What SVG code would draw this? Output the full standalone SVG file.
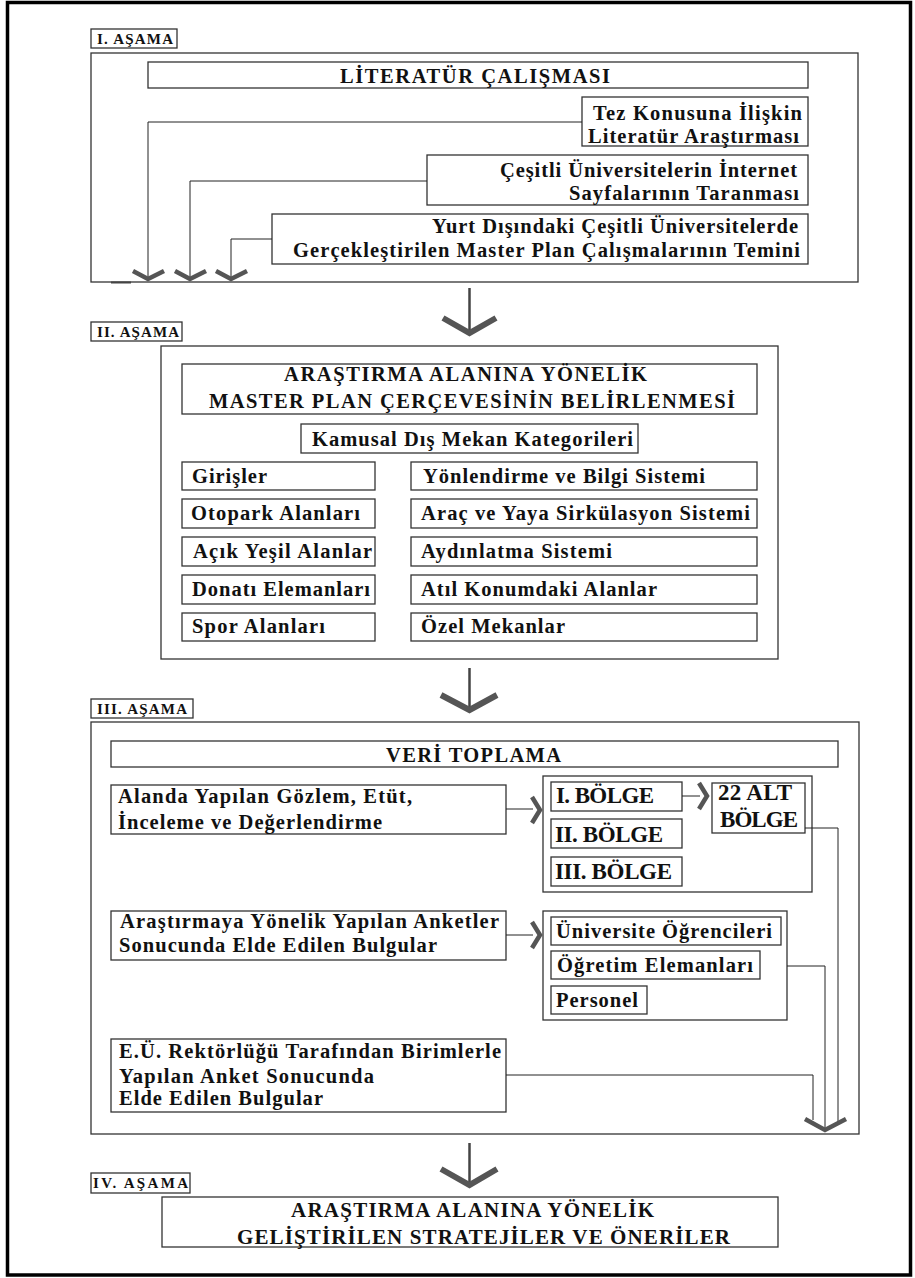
<svg xmlns="http://www.w3.org/2000/svg" width="915" height="1278" viewBox="0 0 915 1278">
<style>
.box{fill:#fff;stroke:#333;stroke-width:1.3}
.frame{fill:none;stroke:#333;stroke-width:1.3}
.t{font-family:"Liberation Serif","Times New Roman",serif;font-weight:bold;fill:#111;font-size:20.5px}
.lbl{font-size:15px}
.big{font-size:23px}
.fin{font-size:21px}
.conn{fill:none;stroke:#222;stroke-width:1}
.chev{fill:none;stroke:#555;stroke-width:6;stroke-linejoin:miter;stroke-miterlimit:10}
.chevs{fill:none;stroke:#555;stroke-width:4.5;stroke-linejoin:miter;stroke-miterlimit:10}
.shaft{stroke:#444;stroke-width:2.5}
</style>
<rect x="0" y="0" width="915" height="1278" fill="#fff"/>
<rect x="7.5" y="2.5" width="903" height="1272.5" fill="none" stroke="#000" stroke-width="3.5"/>

<!-- Phase I -->
<g id="phase1">
  <rect class="box" x="91" y="29" width="86" height="19"/>
  <text class="t lbl" x="97" y="44" textLength="76" lengthAdjust="spacing">I. AŞAMA</text>
  <rect class="frame" x="91" y="53" width="767" height="229"/>
</g>
<g id="literatur">
  <rect class="box" x="148" y="62" width="660" height="26"/>
  <text class="t" x="340" y="83" textLength="270" lengthAdjust="spacing">LİTERATÜR ÇALIŞMASI</text>
</g>
<g id="tez">
  <rect class="box" x="582" y="97" width="226" height="49"/>
  <text class="t" x="593" y="120" textLength="209" lengthAdjust="spacing">Tez Konusuna İlişkin</text>
  <text class="t" x="588" y="143" textLength="211" lengthAdjust="spacing">Literatür Araştırması</text>
</g>
<g id="cesitli">
  <rect class="box" x="427" y="155" width="381" height="50"/>
  <text class="t" x="500" y="177" textLength="297" lengthAdjust="spacing">Çeşitli Üniversitelerin İnternet</text>
  <text class="t" x="569" y="200" textLength="230" lengthAdjust="spacing">Sayfalarının Taranması</text>
</g>
<g id="yurt">
  <rect class="box" x="272" y="214" width="536" height="50"/>
  <text class="t" x="432" y="233" textLength="366" lengthAdjust="spacing">Yurt Dışındaki Çeşitli Üniversitelerde</text>
  <text class="t" x="293" y="257" textLength="507" lengthAdjust="spacing">Gerçekleştirilen Master Plan Çalışmalarının Temini</text>
</g>

<!-- Phase II -->
<g id="phase2">
  <rect class="box" x="91" y="322" width="91" height="19"/>
  <text class="t lbl" x="97" y="337" textLength="82" lengthAdjust="spacing">II. AŞAMA</text>
  <rect class="frame" x="161" y="346" width="617" height="313"/>
</g>
<g id="masterplan">
  <rect class="box" x="182" y="364" width="575" height="50"/>
  <text class="t" x="284" y="381" textLength="363" lengthAdjust="spacing">ARAŞTIRMA ALANINA YÖNELİK</text>
  <text class="t" x="209" y="408" textLength="526" lengthAdjust="spacing">MASTER PLAN ÇERÇEVESİNİN BELİRLENMESİ</text>
</g>
<g id="kamusal">
  <rect class="box" x="301" y="424" width="337" height="29"/>
  <text class="t" x="312" y="446" textLength="321" lengthAdjust="spacing">Kamusal Dış Mekan Kategorileri</text>
</g>
<g id="girisler"><rect class="box" x="182" y="462" width="193" height="28"/><text class="t" x="192" y="483" textLength="75" lengthAdjust="spacing">Girişler</text></g>
<g id="otopark"><rect class="box" x="182" y="499" width="193" height="29"/><text class="t" x="191" y="520" textLength="169" lengthAdjust="spacing">Otopark Alanları</text></g>
<g id="acik"><rect class="box" x="182" y="537" width="193" height="29"/><text class="t" x="193" y="558" textLength="179" lengthAdjust="spacing">Açık Yeşil Alanlar</text></g>
<g id="donati"><rect class="box" x="182" y="575" width="193" height="29"/><text class="t" x="192" y="596" textLength="178" lengthAdjust="spacing">Donatı Elemanları</text></g>
<g id="spor"><rect class="box" x="182" y="613" width="193" height="28"/><text class="t" x="192" y="633" textLength="133" lengthAdjust="spacing">Spor Alanları</text></g>
<g id="yonlendirme"><rect class="box" x="411" y="462" width="346" height="28"/><text class="t" x="423" y="483" textLength="282" lengthAdjust="spacing">Yönlendirme ve Bilgi Sistemi</text></g>
<g id="arac"><rect class="box" x="411" y="499" width="346" height="29"/><text class="t" x="421" y="520" textLength="329" lengthAdjust="spacing">Araç ve Yaya Sirkülasyon Sistemi</text></g>
<g id="aydinlatma"><rect class="box" x="411" y="537" width="346" height="29"/><text class="t" x="421" y="558" textLength="191" lengthAdjust="spacing">Aydınlatma Sistemi</text></g>
<g id="atil"><rect class="box" x="411" y="575" width="346" height="29"/><text class="t" x="421" y="596" textLength="236" lengthAdjust="spacing">Atıl Konumdaki Alanlar</text></g>
<g id="ozel"><rect class="box" x="411" y="613" width="346" height="28"/><text class="t" x="421" y="633" textLength="144" lengthAdjust="spacing">Özel Mekanlar</text></g>

<!-- Phase III -->
<g id="phase3">
  <rect class="box" x="91" y="699" width="102" height="19"/>
  <text class="t lbl" x="97" y="714" textLength="90" lengthAdjust="spacing">III. AŞAMA</text>
  <rect class="frame" x="91" y="722" width="768" height="412"/>
</g>
<g id="veri">
  <rect class="box" x="111" y="741" width="727" height="26"/>
  <text class="t" x="386" y="762" textLength="175" lengthAdjust="spacing">VERİ TOPLAMA</text>
</g>
<g id="alanda">
  <rect class="box" x="111" y="785" width="395" height="49"/>
  <text class="t" x="118" y="803" textLength="294" lengthAdjust="spacing">Alanda Yapılan Gözlem, Etüt,</text>
  <text class="t" x="118" y="829" textLength="264" lengthAdjust="spacing">İnceleme ve Değerlendirme</text>
</g>
<g id="bolgeler">
  <rect class="frame" x="543" y="776" width="269" height="116"/>
</g>
<g id="bolge1"><rect class="box" x="551" y="782" width="131" height="29"/><text class="t big" x="556" y="803" textLength="98" lengthAdjust="spacing">I. BÖLGE</text></g>
<g id="bolge2"><rect class="box" x="551" y="819" width="131" height="29"/><text class="t big" x="555" y="842" textLength="108" lengthAdjust="spacing">II. BÖLGE</text></g>
<g id="bolge3"><rect class="box" x="551" y="857" width="131" height="29"/><text class="t big" x="555" y="879" textLength="117" lengthAdjust="spacing">III. BÖLGE</text></g>
<g id="altbolge">
  <rect class="box" x="712" y="783" width="93" height="50"/>
  <text class="t big" x="718" y="800" textLength="74" lengthAdjust="spacing">22 ALT</text>
  <text class="t big" x="720" y="827" textLength="78" lengthAdjust="spacing">BÖLGE</text>
</g>
<g id="anketler">
  <rect class="box" x="111" y="911" width="395" height="49"/>
  <text class="t" x="120" y="928" textLength="379" lengthAdjust="spacing">Araştırmaya Yönelik Yapılan Anketler</text>
  <text class="t" x="119" y="952" textLength="318" lengthAdjust="spacing">Sonucunda Elde Edilen Bulgular</text>
</g>
<g id="katilimcilar">
  <rect class="frame" x="543" y="911" width="244" height="109"/>
</g>
<g id="ogrenciler"><rect class="box" x="551" y="917" width="230" height="28"/><text class="t" x="556" y="938" textLength="216" lengthAdjust="spacing">Üniversite Öğrencileri</text></g>
<g id="ogretim"><rect class="box" x="551" y="951" width="209" height="28"/><text class="t" x="557" y="972" textLength="196" lengthAdjust="spacing">Öğretim Elemanları</text></g>
<g id="personel"><rect class="box" x="551" y="986" width="96" height="28"/><text class="t" x="556" y="1007" textLength="82" lengthAdjust="spacing">Personel</text></g>
<g id="rektorluk">
  <rect class="box" x="111" y="1039" width="395" height="73"/>
  <text class="t" x="119" y="1058" textLength="382" lengthAdjust="spacing">E.Ü. Rektörlüğü Tarafından Birimlerle</text>
  <text class="t" x="119" y="1083" textLength="255" lengthAdjust="spacing">Yapılan Anket Sonucunda</text>
  <text class="t" x="119" y="1105" textLength="204" lengthAdjust="spacing">Elde Edilen Bulgular</text>
</g>

<!-- Phase IV -->
<g id="phase4">
  <rect class="box" x="91" y="1173" width="99" height="20"/>
  <text class="t lbl" x="93" y="1188" textLength="95" lengthAdjust="spacing">IV. AŞAMA</text>
</g>
<g id="stratejiler">
  <rect class="box" x="162" y="1197" width="616" height="50"/>
  <text class="t fin" x="291" y="1217" textLength="363" lengthAdjust="spacing">ARAŞTIRMA ALANINA YÖNELİK</text>
  <text class="t fin" x="237" y="1244" textLength="493" lengthAdjust="spacing">GELİŞTİRİLEN STRATEJİLER VE ÖNERİLER</text>
</g>

<!-- Connectors -->
<g id="connectors">
  <polyline class="conn" points="582,122 148,122 148,277"/>
  <polyline class="conn" points="427,181 190,181 190,277"/>
  <polyline class="conn" points="272,239 231,239 231,277"/>
  <line x1="111" y1="282.5" x2="131" y2="282.5" stroke="#444" stroke-width="2"/>
  <polyline class="chevs" points="133,271 148,279 164,271"/>
  <polyline class="chevs" points="175,271 190,279 206,271"/>
  <polyline class="chevs" points="216,271 231,279 247,271"/>

  <line class="shaft" x1="469.5" y1="288" x2="469.5" y2="330"/>
  <polyline class="chev" points="443,318 469.5,333 496,318"/>
  <line class="shaft" x1="469.5" y1="668" x2="469.5" y2="708"/>
  <polyline class="chev" points="441,695 469.5,710 497,695"/>
  <line class="shaft" x1="469.5" y1="1143" x2="469.5" y2="1183"/>
  <polyline class="chev" points="441,1169 469.5,1185 497,1169"/>

  <line class="conn" x1="506" y1="809" x2="533" y2="809"/>
  <polyline class="chevs" points="532,797 540,810 532,823"/>
  <line class="conn" x1="682" y1="796" x2="700" y2="796"/>
  <polyline class="chevs" points="699,783 707,796 699,809"/>
  <polyline class="conn" points="805,828 838,828 838,1122"/>
  <line class="conn" x1="506" y1="935" x2="533" y2="935"/>
  <polyline class="chevs" points="532,922 540,935 532,948"/>
  <polyline class="conn" points="787,966 825,966 825,1129"/>
  <polyline class="conn" points="506,1075 813,1075 813,1120"/>
  <polyline class="chevs" points="805,1119 825,1130 846,1119"/>
</g>
</svg>
